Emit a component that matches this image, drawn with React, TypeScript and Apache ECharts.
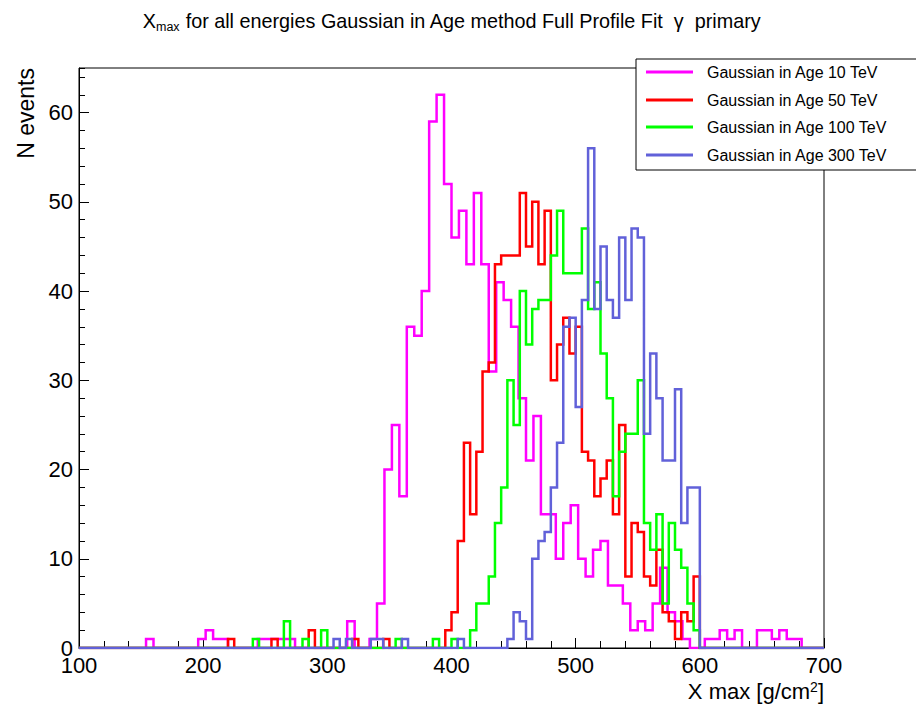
import React, { useEffect, useRef } from "react";
import * as echarts from "echarts";

// ---- axis ----
const X_MIN = 100;
const X_MAX = 700;
const Y_MAX = 65;
const X_TICKS_STEP = 100;
const Y_TICKS_STEP = 10;

// ---- binning (10 TeV histogram: 100 bins of 6; others: 120 bins of 5) ----
const BIN_WIDTH_10TEV = 6;
const BIN_WIDTH_OTHER = 5;

const SERIES_NAMES = [
  "Gaussian in Age 10 TeV",
  "Gaussian in Age 50 TeV",
  "Gaussian in Age 100 TeV",
  "Gaussian in Age 300 TeV",
];
const SERIES_COLORS = ["#ff00ff", "#ff0000", "#00ff00", "#6161d9"];

// ---- bin contents ----
const COUNTS_10TEV = [
  0, 0, 0, 0, 0, 0, 0, 0, 0, 1,
  0, 0, 0, 0, 0, 0, 1, 2, 1, 1,
  0, 0, 0, 0, 1, 1, 1, 1, 1, 0,
  0, 0, 0, 0, 0, 0, 3, 0, 0, 1,
  5, 20, 25, 17, 36, 35, 40, 59, 62, 52,
  46, 49, 43, 51, 43, 31, 41, 39, 36, 28,
  21, 26, 15, 15, 10, 14, 16, 10, 8, 11,
  12, 7, 7, 5, 2, 3, 2, 5, 9, 4,
  3, 1, 0, 0, 1, 1, 2, 1, 2, 0,
  0, 2, 2, 1, 2, 1, 1, 0, 0, 0,
];
const COUNTS_50TEV = [
  0, 0, 0, 0, 0, 0, 0, 0, 0, 0,
  0, 0, 0, 0, 0, 0, 0, 0, 0, 0,
  0, 0, 0, 0, 1, 0, 0, 0, 0, 0,
  0, 1, 0, 0, 0, 0, 0, 2, 0, 0,
  0, 0, 0, 0, 1, 0, 0, 0, 0, 1,
  0, 0, 0, 0, 0, 0, 0, 0, 0, 2,
  4, 12, 23, 15, 22, 31, 32, 43, 44, 44,
  44, 51, 45, 50, 43, 49, 30, 34, 37, 33,
  36, 22, 21, 17, 19, 21, 15, 25, 8, 14,
  13, 8, 7, 11, 4, 3, 1, 4, 3, 8,
  0, 0, 0, 0, 0, 0, 0, 0, 0, 0,
  0, 0, 0, 0, 0, 0, 0, 0, 0, 0,
];
const COUNTS_100TEV = [
  0, 0, 0, 0, 0, 0, 0, 0, 0, 0,
  0, 0, 0, 0, 0, 0, 0, 0, 0, 0,
  0, 0, 0, 0, 0, 0, 0, 0, 1, 0,
  0, 0, 0, 3, 0, 0, 1, 0, 0, 2,
  0, 0, 0, 0, 0, 0, 0, 0, 0, 0,
  0, 1, 0, 0, 0, 0, 0, 1, 0, 0,
  1, 0, 0, 2, 5, 5, 8, 14, 18, 30,
  25, 40, 34, 38, 39, 39, 44, 49, 42, 42,
  42, 47, 38, 41, 33, 28, 17, 22, 24, 24,
  30, 14, 11, 15, 5, 14, 11, 9, 5, 2,
  0, 0, 0, 0, 0, 0, 0, 0, 0, 0,
  0, 0, 0, 0, 0, 0, 0, 0, 0, 0,
];
const COUNTS_300TEV = [
  0, 0, 0, 0, 0, 0, 0, 0, 0, 0,
  0, 0, 0, 0, 0, 0, 0, 0, 0, 0,
  0, 0, 0, 0, 0, 0, 0, 0, 0, 0,
  0, 0, 0, 0, 0, 0, 0, 0, 0, 0,
  0, 1, 0, 1, 0, 0, 0, 1, 1, 0,
  0, 0, 1, 0, 0, 0, 0, 0, 0, 0,
  0, 1, 0, 0, 0, 0, 0, 0, 0, 1,
  4, 3, 1, 10, 12, 13, 18, 23, 36, 37,
  27, 39, 56, 38, 45, 39, 37, 46, 39, 47,
  46, 24, 33, 28, 21, 21, 29, 14, 18, 18,
  0, 0, 0, 0, 0, 0, 0, 0, 0, 0,
  0, 0, 0, 0, 0, 0, 0, 0, 0, 0,
];
const ALL_COUNTS = [COUNTS_10TEV, COUNTS_50TEV, COUNTS_100TEV, COUNTS_300TEV];
const ALL_BIN_WIDTHS = [BIN_WIDTH_10TEV, BIN_WIDTH_OTHER, BIN_WIDTH_OTHER, BIN_WIDTH_OTHER];

const FONT = "'Liberation Sans', Arial, Helvetica, sans-serif";

function histPoints(counts: number[], width: number): [number, number][] {
  const pts: [number, number][] = counts.map((c, i) => [X_MIN + i * width, c]);
  pts.push([X_MIN + counts.length * width, counts[counts.length - 1]]);
  return pts;
}

export default function App() {
  const ref = useRef<HTMLDivElement>(null);

  useEffect(() => {
    if (!ref.current) return;
    const chart = echarts.init(ref.current, undefined, { renderer: "svg" });

    const GRID = { left: 79, top: 68, width: 745, height: 580 };

    const legendX = 636;
    const legendY = 59;
    const legendRows = [72, 100, 127, 155];

    const graphics: any[] = [
      {
        type: "text",
        z: 100,
        style: {
          x: 452,
          y: 21,
          align: "center",
          verticalAlign: "middle",
          text: "{a|X}{s|max}{a| for all energies Gaussian in Age method Full Profile Fit  γ  primary}",
          rich: {
            a: { fontSize: 19.8, fontFamily: FONT, fill: "#000", lineHeight: 24 },
            s: { fontSize: 12.5, fontFamily: FONT, fill: "#000", lineHeight: 14, verticalAlign: "bottom" },
          },
        },
      },
      {
        type: "text",
        z: 100,
        x: 26,
        y: 68,
        rotation: Math.PI / 2,
        style: {
          x: 0,
          y: 0,
          text: "N events",
          align: "right",
          verticalAlign: "middle",
          fontSize: 23,
          fontFamily: FONT,
          fill: "#000",
        },
      },
      {
        type: "text",
        z: 100,
        style: {
          x: 824,
          y: 691,
          align: "right",
          verticalAlign: "middle",
          text: "{a|X max [g/cm}{p|2}{a|]}",
          rich: {
            a: { fontSize: 22, fontFamily: FONT, fill: "#000", lineHeight: 22 },
            p: { fontSize: 14, fontFamily: FONT, fill: "#000", lineHeight: 12, verticalAlign: "top" },
          },
        },
      },
      {
        type: "rect",
        z: 100,
        shape: { x: legendX, y: legendY, width: 300, height: 111 },
        style: { fill: "#fff", stroke: "#000", lineWidth: 1 },
      },
    ];
    SERIES_NAMES.forEach((name, i) => {
      graphics.push({
        type: "line",
        z: 101,
        shape: { x1: 646, y1: legendRows[i], x2: 693, y2: legendRows[i] },
        style: { stroke: SERIES_COLORS[i], lineWidth: 3 },
      });
      graphics.push({
        type: "text",
        z: 101,
        style: {
          x: 707,
          y: legendRows[i],
          text: name,
          align: "left",
          verticalAlign: "middle",
          fontSize: 16,
          fontFamily: FONT,
          fill: "#000",
        },
      });
    });

    const option: any = {
      animation: false,
      backgroundColor: "#fff",
      grid: {
        ...GRID,
        show: true,
        borderColor: "#000",
        borderWidth: 1,
        backgroundColor: "transparent",
        containLabel: false,
      },
      xAxis: {
        type: "value",
        min: X_MIN,
        max: X_MAX,
        interval: X_TICKS_STEP,
        axisLine: { show: true, lineStyle: { color: "#000", width: 1 } },
        axisTick: { show: true, inside: true, length: 10, lineStyle: { color: "#000", width: 1 } },
        minorTick: { show: true, splitNumber: 5, length: 7, lineStyle: { color: "#000", width: 1 } },
        splitLine: { show: false },
        minorSplitLine: { show: false },
        axisLabel: { fontSize: 22, lineHeight: 16, color: "#000", fontFamily: FONT, margin: 9 },
      },
      yAxis: [
        {
          type: "value",
          min: 0,
          max: Y_MAX,
          interval: Y_TICKS_STEP,
          axisLine: { show: true, lineStyle: { color: "#000", width: 1 } },
          axisTick: { show: true, inside: true, length: 10, lineStyle: { color: "#000", width: 1 } },
          splitLine: { show: false },
          axisLabel: {
            fontSize: 22,
            lineHeight: 16,
            color: "#000",
            fontFamily: FONT,
            margin: 6,
            showMaxLabel: false,
          },
        },
        {
          type: "value",
          min: 0,
          max: Y_MAX,
          interval: 2,
          position: "left",
          axisLine: { show: false },
          axisTick: { show: true, inside: true, length: 6, lineStyle: { color: "#000", width: 1 } },
          splitLine: { show: false },
          axisLabel: { show: false },
        },
      ],
      series: ALL_COUNTS.map((counts, i) => ({
        name: SERIES_NAMES[i],
        type: "line",
        step: "end",
        data: histPoints(counts, ALL_BIN_WIDTHS[i]),
        yAxisIndex: 0,
        symbol: "none",
        showSymbol: false,
        silent: true,
        clip: true,
        z: 2 + i,
        lineStyle: { color: SERIES_COLORS[i], width: 2.5, join: "miter", cap: "butt" },
      })),
      graphic: graphics,
    };

    chart.setOption(option);
    return () => chart.dispose();
  }, []);

  return (
    <div
      ref={ref}
      style={{ position: "fixed", left: 0, top: 0, width: 916, height: 704, background: "#fff" }}
    />
  );
}
